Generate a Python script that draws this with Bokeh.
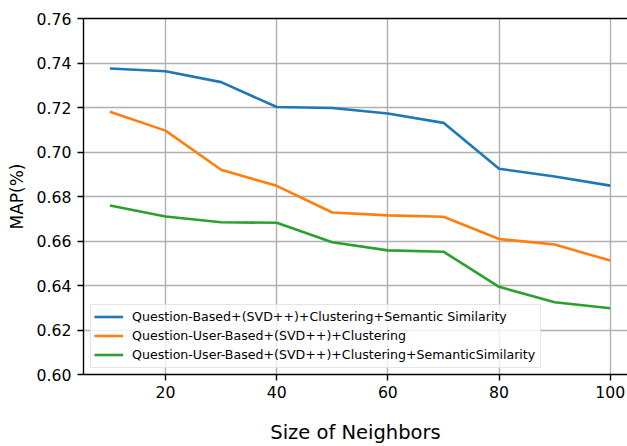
from bokeh.plotting import figure
from bokeh.models import Range1d, FixedTicker, NumeralTickFormatter, LinearAxis, Legend, LegendItem
from bokeh.embed import file_html
from bokeh.resources import INLINE

# ---- data ----
neighbors = [10, 20, 30, 40, 50, 60, 70, 80, 90, 100]
q_based_sem = [0.7375, 0.7363, 0.7314, 0.7202, 0.7198, 0.7173, 0.7131, 0.6925, 0.6890, 0.6849]
qu_based = [0.7181, 0.7096, 0.6920, 0.6848, 0.6728, 0.6715, 0.6709, 0.6609, 0.6584, 0.6512]
qu_based_sem = [0.6760, 0.6710, 0.6684, 0.6682, 0.6594, 0.6558, 0.6552, 0.6394, 0.6325, 0.6298]
labels = [
    "Question-Based+(SVD++)+Clustering+Semantic Similarity",
    "Question-User-Based+(SVD++)+Clustering",
    "Question-User-Based+(SVD++)+Clustering+SemanticSimilarity",
]
x_ticks = [20, 40, 60, 80, 100]
y_ticks = [0.60, 0.62, 0.64, 0.66, 0.68, 0.70, 0.72, 0.74, 0.76]

FONT = "DejaVu Sans"
colors = ["#1f77b4", "#ff7f0e", "#2ca02c"]

p = figure(width=627, height=446,
           x_range=Range1d(5.25, 103.1), y_range=Range1d(0.60, 0.76),
           output_backend="svg", toolbar_location=None,
           min_border_left=83, min_border_right=0, min_border_top=18, min_border_bottom=71)
p.outline_line_color = None
p.background_fill_color = "white"
p.border_fill_color = "white"

renderers = []
for ys, c in zip([q_based_sem, qu_based, qu_based_sem], colors):
    r = p.line(neighbors, ys, line_color=c, line_width=2.6)
    renderers.append(r)

for ax in (p.xaxis[0], p.yaxis[0]):
    ax.axis_line_color = "black"
    ax.axis_line_width = 1.4
    ax.major_tick_line_color = "black"
    ax.major_tick_line_width = 1.4
    ax.major_tick_out = 6
    ax.major_tick_in = 0
    ax.minor_tick_line_color = None
    ax.major_label_text_font = FONT
    ax.major_label_text_font_size = "15.7px"
    ax.major_label_text_color = "black"
    ax.axis_label_text_font = FONT
    ax.axis_label_text_font_style = "normal"
    ax.axis_label_text_color = "black"

p.xaxis[0].ticker = FixedTicker(ticks=x_ticks)
p.yaxis[0].ticker = FixedTicker(ticks=y_ticks)
p.yaxis[0].formatter = NumeralTickFormatter(format="0.00")
p.xaxis[0].major_label_standoff = 5
p.yaxis[0].major_label_standoff = 6

p.xaxis[0].axis_label = "Size of Neighbors"
p.xaxis[0].axis_label_text_font_size = "19.5px"
p.xaxis[0].axis_label_standoff = 20
p.yaxis[0].axis_label = "MAP(%)"
p.yaxis[0].axis_label_text_font_size = "17px"
p.yaxis[0].axis_label_standoff = 7

top = LinearAxis(ticker=FixedTicker(ticks=[]), axis_line_color="black", axis_line_width=1.4,
                 major_tick_line_color=None, minor_tick_line_color=None,
                 major_label_text_font_size="0px")
p.add_layout(top, "above")

p.xgrid.ticker = FixedTicker(ticks=x_ticks)
p.ygrid.ticker = FixedTicker(ticks=y_ticks)
for g in (p.xgrid[0], p.ygrid[0]):
    g.grid_line_color = "#b0b0b0"
    g.grid_line_width = 1.4

legend = Legend(items=[LegendItem(label=l, renderers=[r]) for l, r in zip(labels, renderers)],
                location=(7, 6), margin=0,
                padding=dict(left=3, right=5, top=2, bottom=3), spacing=0,
                label_height=19, glyph_height=19, glyph_width=29, label_standoff=9,
                label_text_font=FONT, label_text_font_size="12.6px", label_text_color="black",
                border_line_color="#cccccc", border_line_width=1,
                background_fill_color="white", background_fill_alpha=0.8)
p.add_layout(legend, "center")

open("out.html", "w").write(file_html(p, INLINE))
